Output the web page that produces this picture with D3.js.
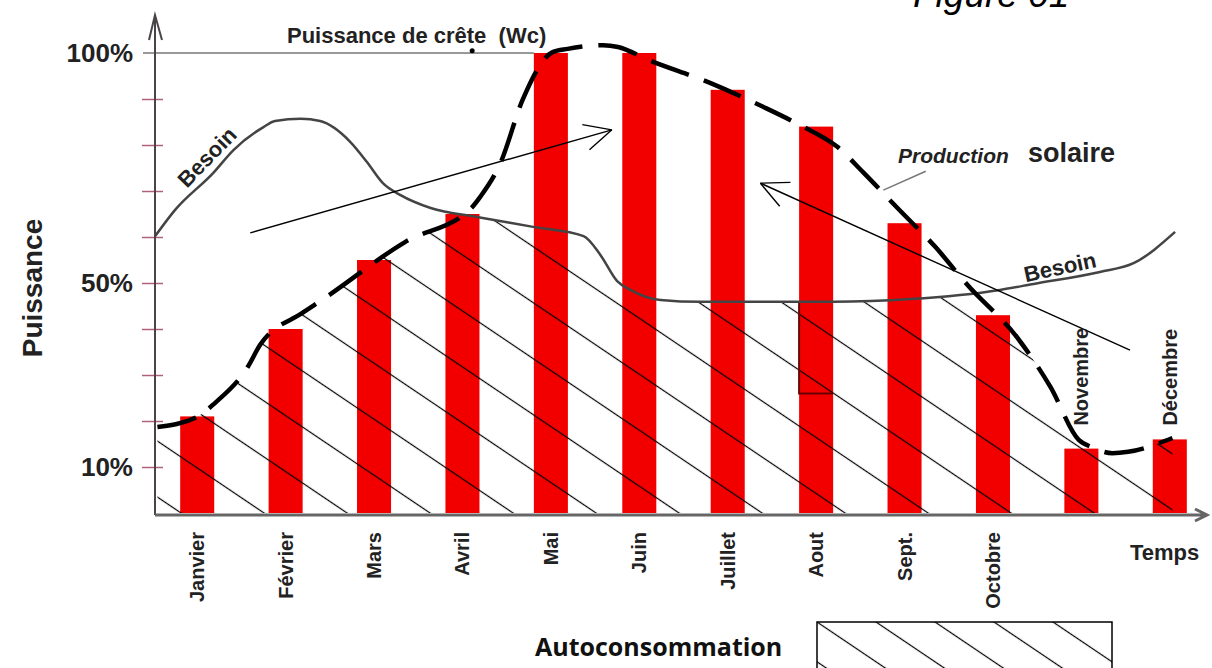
<!DOCTYPE html>
<html>
<head>
<meta charset="utf-8">
<script src="https://cdn.jsdelivr.net/npm/d3@7"></script>
<style>
  body { margin: 0; background: #fff; }
  text { font-family: "Liberation Sans", Arial, sans-serif; }
</style>
</head>
<body>
<svg id="chart" width="1212" height="668"></svg>
<script>
// months and monthly solar production (% of peak power)
var months = ["Janvier", "Février", "Mars", "Avril", "Mai", "Juin", "Juillet", "Aout", "Sept.", "Octobre", "Novembre", "Décembre"];
var production = [21, 40, 55, 65, 100, 100, 92, 84, 63, 43, 14, 16];

// dashed "Production solaire" envelope : month position (0 = Janvier) and %
var prodT   = [-0.45, 0, 0.20, 0.57, 0.71, 1.19, 1.41, 2.35, 3.11, 3.20, 3.43, 3.68, 4.02, 4.19, 4.59, 4.76, 5.10, 5.80, 6.40, 6.82, 7.24, 7.53, 7.92, 8.35, 8.71, 9.28, 9.65, 9.97, 10.12, 10.35, 10.53, 11.03];
var prodPct = [18.7, 20.9, 23.9, 31.7, 36.5, 43.5, 46.3, 58.9, 66.5, 68.7, 76.1, 89.8, 100.2, 100.9, 101.7, 101.3, 98.5, 93.5, 88.3, 84.3, 79.6, 74.1, 66.3, 57.8, 49.6, 38.0, 27.4, 15.9, 14.3, 13.0, 13.3, 16.3];

// "Besoin" (needs) curve
var besoinT   = [-0.475, -0.25, 0.18, 0.41, 0.75, 0.88, 1.17, 1.39, 1.73, 1.92, 2.10, 2.30, 2.64, 3.18, 3.80, 4.37, 4.56, 4.75, 4.90, 5.24, 5.69, 7.19, 8.07, 9.08, 9.46, 10.21, 10.59, 11.06];
var besoinPct = [60.2, 65.9, 73.9, 78.9, 83.9, 85.2, 85.7, 85.2, 80.7, 76.3, 71.7, 69.1, 66.3, 64.3, 62.2, 60.2, 56.1, 50.4, 48.5, 46.3, 45.9, 45.9, 46.5, 48.5, 49.8, 52.4, 54.3, 61.1];

// y ticks and labels
var yTicks = [10, 20, 30, 40, 50, 60, 70, 80, 90, 100];
var yLabels = [10, 50, 100];

// annotation arrows [month position, %]
var arrowStart = [[0.60, 60.9], [10.55, 35.4]];
var arrowEnd   = [[4.69, 83.3], [6.37, 71.7]];
var leader = [[8.24, 74.3], [7.76, 70.2]];
var crestDot = [3.11, 100.5];
var aoutBox = [45.9, 26];   // outline inside the Aout bar (top, bottom)
var innerLabelPct = 19;     // Novembre / Décembre labels start here

var svg = d3.select("#chart");

var y = d3.scaleLinear().domain([0, 100]).range([513, 53]);
var x = d3.scaleBand().domain(months).range([153, 1214]);
var xt = d3.scaleLinear().domain([-0.5, 11.5]).range([153, 1214]);
var barW = x.bandwidth() * 0.385;
var barX = m => x(m) + (x.bandwidth() - barW) / 2;

var defs = svg.append("defs");

// diagonal hatching
function hatch(id, step, ox, oy, sw) {
  var ang = 34;
  var h = step * Math.sin(ang * Math.PI / 180);
  var p = defs.append("pattern")
    .attr("id", id)
    .attr("patternUnits", "userSpaceOnUse")
    .attr("width", 20)
    .attr("height", h)
    .attr("patternTransform", `translate(${ox},${oy}) rotate(${ang}) translate(0,${-h / 2})`);
  p.append("line")
    .attr("x1", 0).attr("x2", 20)
    .attr("y1", h / 2).attr("y2", h / 2)
    .attr("stroke", "#000")
    .attr("stroke-width", sw);
}
hatch("hatch", 83, 267, 515, 1.2);
hatch("hatchLegend", 59, 817, 622, 1.2);

var prodPts = prodT.map((t, i) => [t, prodPct[i]]);
var besoinPts = besoinT.map((t, i) => [t, besoinPct[i]]);

var area = d3.area()
  .x(d => xt(d[0]))
  .y0(y(0))
  .y1(d => y(d[1]))
  .curve(d3.curveMonotoneX);
var line = d3.line()
  .x(d => xt(d[0]))
  .y(d => y(d[1]))
  .curve(d3.curveMonotoneX);

defs.append("clipPath").attr("id", "clipProd").append("path").attr("d", area(prodPts));
defs.append("clipPath").attr("id", "clipBesoin").append("path").attr("d", area(besoinPts));

// 100% line (Puissance de crête)
svg.append("line")
  .attr("x1", 143).attr("x2", barX("Mai"))
  .attr("y1", y(100)).attr("y2", y(100))
  .attr("stroke", "#777")
  .attr("stroke-width", 1.5);

// bars
svg.selectAll(".bar")
  .data(production)
  .enter()
  .append("rect")
  .attr("class", "bar")
  .attr("x", (d, i) => barX(months[i]))
  .attr("y", d => y(d))
  .attr("width", barW)
  .attr("height", d => y(0) - y(d))
  .attr("fill", "#f20000");

// autoconsommation hatching = under both curves
svg.append("g")
  .attr("clip-path", "url(#clipProd)")
  .append("g")
  .attr("clip-path", "url(#clipBesoin)")
  .append("rect")
  .attr("x", 150).attr("y", 0)
  .attr("width", 1062).attr("height", y(0))
  .attr("fill", "url(#hatch)");

// outline in the Aout bar
svg.append("path")
  .attr("d", `M${barX("Aout")},${y(aoutBox[0])}V${y(aoutBox[1])}H${barX("Aout") + barW}`)
  .attr("fill", "none")
  .attr("stroke", "#6a0000")
  .attr("stroke-width", 2);

// besoin curve
svg.append("path")
  .attr("d", line(besoinPts))
  .attr("fill", "none")
  .attr("stroke", "#444")
  .attr("stroke-width", 2.5);

// production envelope
svg.append("path")
  .attr("d", line(prodPts))
  .attr("fill", "none")
  .attr("stroke", "#000")
  .attr("stroke-width", 4.5)
  .attr("stroke-dasharray", "40,16");

// arrows
arrowStart.forEach(function(s, i) {
  var e = arrowEnd[i];
  var x1 = xt(s[0]), y1 = y(s[1]), x2 = xt(e[0]), y2 = y(e[1]);
  var a = Math.atan2(y2 - y1, x2 - x1);
  var g = svg.append("g").attr("stroke", "#000").attr("stroke-width", 1.4).attr("fill", "none");
  g.append("line").attr("x1", x1).attr("y1", y1).attr("x2", x2).attr("y2", y2);
  [-0.45, 0.45].forEach(function(da) {
    g.append("line")
      .attr("x1", x2).attr("y1", y2)
      .attr("x2", x2 - 30 * Math.cos(a + da))
      .attr("y2", y2 - 30 * Math.sin(a + da));
  });
});

// leader line for "Production solaire"
svg.append("line")
  .attr("x1", xt(leader[0][0])).attr("y1", y(leader[0][1]))
  .attr("x2", xt(leader[1][0])).attr("y2", y(leader[1][1]))
  .attr("stroke", "#777")
  .attr("stroke-width", 1.5);

svg.append("circle")
  .attr("cx", xt(crestDot[0])).attr("cy", y(crestDot[1]))
  .attr("r", 2.5)
  .attr("fill", "#000");

// y axis
var yAxis = svg.append("g")
  .attr("transform", "translate(155,0)")
  .call(d3.axisLeft(y)
    .tickValues(yTicks)
    .tickSizeInner(13)
    .tickSizeOuter(0)
    .tickPadding(9)
    .tickFormat(d => yLabels.includes(d) ? d + "%" : ""));
yAxis.select(".domain").remove();
yAxis.selectAll(".tick line")
  .attr("x2", -13).attr("x1", 8)
  .attr("stroke", "#b0607a")
  .attr("stroke-width", 1.5)
  .attr("opacity", d => d === 100 ? 0 : 1);
yAxis.selectAll(".tick text")
  .attr("font-size", 26)
  .attr("font-weight", "bold")
  .attr("font-family", "Liberation Sans, Arial, sans-serif")
  .attr("fill", "#222");

svg.append("path")
  .attr("d", `M155,${y(0) + 2}V15M149,40L155,15L162,40`)
  .attr("fill", "none")
  .attr("stroke", "#4a4448")
  .attr("stroke-width", 2);

// x axis
var xAxis = svg.append("g")
  .attr("transform", `translate(0,515)`)
  .call(d3.axisBottom(x).tickSize(0));
xAxis.select(".domain").remove();
xAxis.selectAll(".tick text")
  .attr("transform", "rotate(-90)")
  .attr("x", -17)
  .attr("y", 0)
  .attr("dy", "0.35em")
  .style("text-anchor", "end")
  .attr("font-size", 20)
  .attr("font-weight", "bold")
  .attr("font-family", "Liberation Sans, Arial, sans-serif")
  .attr("fill", "#222");
xAxis.selectAll(".tick text")
  .filter(d => d === "Novembre" || d === "Décembre")
  .attr("x", 515 - y(innerLabelPct))
  .style("text-anchor", "start");

svg.append("path")
  .attr("d", "M155,515H1205M1195,509L1207,515L1195,521")
  .attr("fill", "none")
  .attr("stroke", "#666")
  .attr("stroke-width", 3);

// texts
svg.append("text")
  .attr("transform", "translate(42,288) rotate(-90)")
  .attr("text-anchor", "middle")
  .attr("font-size", 28)
  .attr("font-weight", "bold")
  .attr("fill", "#222")
  .text("Puissance");

svg.append("text")
  .attr("x", 287).attr("y", 43)
  .attr("font-size", 22)
  .attr("font-weight", "bold")
  .attr("fill", "#222")
  .style("white-space", "pre")
  .text("Puissance de crête  (Wc)");

svg.append("text")
  .attr("x", 1130).attr("y", 560)
  .attr("font-size", 22)
  .attr("font-weight", "bold")
  .attr("fill", "#222")
  .text("Temps");

svg.append("text")
  .attr("transform", "translate(207,157) rotate(-46)")
  .attr("text-anchor", "middle")
  .attr("dy", "0.35em")
  .attr("font-size", 22)
  .attr("font-weight", "bold")
  .attr("fill", "#222")
  .text("Besoin");

svg.append("text")
  .attr("transform", "translate(1060,267) rotate(-12)")
  .attr("text-anchor", "middle")
  .attr("dy", "0.35em")
  .attr("font-size", 22)
  .attr("font-weight", "bold")
  .attr("fill", "#222")
  .text("Besoin");

svg.append("text")
  .attr("x", 898).attr("y", 163)
  .attr("font-size", 21)
  .attr("font-weight", "bold")
  .attr("font-style", "italic")
  .attr("fill", "#222")
  .text("Production");

svg.append("text")
  .attr("x", 1028).attr("y", 162)
  .attr("font-size", 27)
  .attr("font-weight", "bold")
  .attr("fill", "#222")
  .text("solaire");

svg.append("text")
  .attr("x", 913).attr("y", 7)
  .attr("font-size", 37)
  .attr("font-style", "italic")
  .attr("fill", "#000")
  .text("Figure 01");

// legend
svg.append("text")
  .attr("x", 535).attr("y", 656)
  .attr("font-size", 25)
  .attr("font-weight", "bold")
  .style("font-family", "'Open Sans', sans-serif")
  .attr("fill", "#111")
  .text("Autoconsommation");

svg.append("rect")
  .attr("x", 817).attr("y", 622)
  .attr("width", 295).attr("height", 50)
  .attr("fill", "url(#hatchLegend)")
  .attr("stroke", "#000")
  .attr("stroke-width", 1.5);
</script>
</body>
</html>
